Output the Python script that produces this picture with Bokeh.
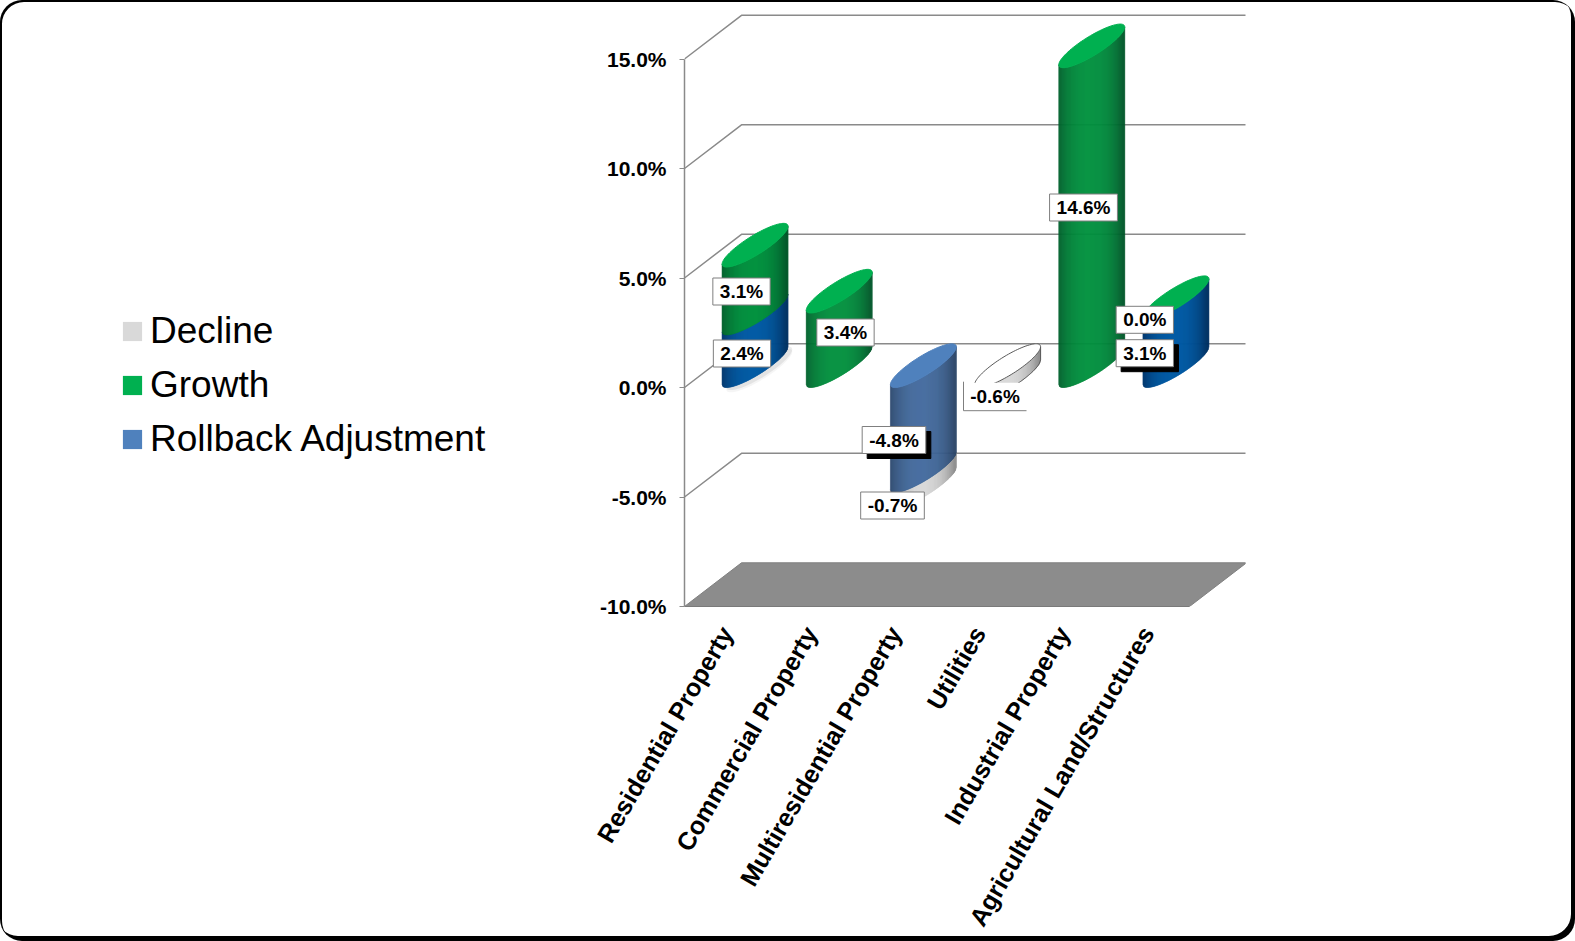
import math

from bokeh.embed import file_html
from bokeh.models import FixedTicker, Label, Legend, LegendItem, PrintfTickFormatter
from bokeh.plotting import figure
from bokeh.resources import INLINE

# Stacked values in percent
categories = ["Residential Property", "Commercial Property", "Multiresidential Property",
              "Utilities", "Industrial Property", "Agricultural Land/Structures"]
decline = [0.0, 0.0, -0.7, -0.6, 0.0, 0.0]
growth = [3.1, 3.4, 0.0, 0.0, 14.6, 0.0]
rollback = [2.4, 0.0, -4.8, 0.0, 0.0, 3.1]
value_ticks = [-10, -5, 0, 5, 10, 15]

# Value label centres, in page pixels, and whether the box has a hard shadow
label_values = [3.1, 2.4, 3.4, -4.8, -0.7, -0.6, 14.6, 0.0, 3.1]
label_px = [741, 741.5, 845, 893.5, 892, 994.5, 1083, 1144.3, 1144.3]
label_py = [291, 353, 332, 439.5, 505, 395.7, 207, 319.3, 352.7]
label_shadow = [False, False, False, True, False, False, False, False, True]

# Plot frame and projection
WIDTH, HEIGHT = 1575, 941
FRAME_L, FRAME_R, FRAME_T, FRAME_B = 684, 1245, 10, 606
PX_PER_CAT = 84.17
PX_PER_VALUE = 21.9
DEPTH_X = 57 / PX_PER_CAT      # receding offset of the back wall, category units
DEPTH_Y = 43.7 / PX_PER_VALUE  # receding offset of the back wall, value units
RADIUS_X = 16.6 / PX_PER_CAT   # half width of a cylinder's base along the category axis

GREEN_TOP = "#00b050"
GREEN_BODY = ((0, 144, 62), (0, 88, 42))
BLUE_BODY = ((0, 90, 164), (0, 50, 100))
STEEL_BODY = ((66, 106, 156), (42, 68, 104))
GREY_BODY = ((215, 215, 215), (140, 140, 140))
STEEL_TOP = "#4f81bd"
GRID = "#8a8a8a"

# The rounded card is the page element itself, shown through a transparent canvas
card = {"border-radius": "22px", "background": "white",
        "box-shadow": "inset 2px 2px 0 black, inset -4px -5px 0 black"}

p = figure(width=WIDTH, height=HEIGHT, output_backend="svg", toolbar_location=None,
           x_range=(0, (FRAME_R - FRAME_L) / PX_PER_CAT),
           y_range=(-10, -10 + (FRAME_B - FRAME_T) / PX_PER_VALUE),
           min_border_left=FRAME_L, min_border_right=WIDTH - FRAME_R,
           min_border_top=FRAME_T, min_border_bottom=HEIGHT - FRAME_B,
           outline_line_color=None, background_fill_color=None, border_fill_color=None,
           styles=card)
p.grid.visible = False

# Value axis on the front edge of the side wall
p.yaxis.ticker = FixedTicker(ticks=value_ticks)
p.yaxis.bounds = (-10, 15)
p.yaxis.formatter = PrintfTickFormatter(format="%.1f%%")
p.yaxis.axis_line_color = GRID
p.yaxis.axis_line_width = 1.5
p.yaxis.major_tick_line_color = GRID
p.yaxis.major_tick_in = 0
p.yaxis.major_tick_out = 5
p.yaxis.minor_tick_line_color = None
p.yaxis.major_label_text_font = "Liberation Sans"
p.yaxis.major_label_text_font_style = "bold"
p.yaxis.major_label_text_font_size = "21px"
p.yaxis.major_label_text_color = "black"
p.yaxis.major_label_standoff = 13

# Category axis along the front edge of the floor
p.xaxis.ticker = FixedTicker(ticks=[i + 0.5 for i in range(len(categories))])
p.xaxis.major_label_overrides = {i + 0.5: c for i, c in enumerate(categories)}
p.xaxis.major_label_orientation = math.radians(59.8)
p.xaxis.bounds = (0, len(categories))
p.xaxis.axis_line_color = "#7a7a7a"
p.xaxis.major_tick_line_color = None
p.xaxis.minor_tick_line_color = None
p.xaxis.major_label_text_font = "Liberation Sans"
p.xaxis.major_label_text_font_style = "bold"
p.xaxis.major_label_text_font_size = "25.2px"
p.xaxis.major_label_text_color = "black"
p.xaxis.major_label_standoff = 16

# Floor and walls
n = len(categories)
p.patch([0, DEPTH_X, n + DEPTH_X, n], [-10, -10 + DEPTH_Y, -10 + DEPTH_Y, -10],
        fill_color="#8c8c8c", line_color="#808080", line_width=1)
for tick in value_ticks[1:]:
    p.line([0, DEPTH_X, n + DEPTH_X], [tick, tick + DEPTH_Y, tick + DEPTH_Y], line_color=GRID, line_width=1.5)


def rgb(c):
    return "#%02x%02x%02x" % tuple(int(round(v)) for v in c)


def ring(cat, level, shift=0.0, steps=90):
    """Outline of a cylinder cross-section at a given stack level."""
    xs, ys = [], []
    for k in range(steps + 1):
        t = 2 * math.pi * k / steps
        xs.append(cat + 0.5 + shift + DEPTH_X / 2 + RADIUS_X * math.cos(t) + DEPTH_X / 2 * math.sin(t))
        ys.append(level + DEPTH_Y / 2 + DEPTH_Y / 2 * math.sin(t))
    return xs, ys


EXTENT = math.hypot(RADIUS_X, DEPTH_X / 2)
PHI = math.atan2(DEPTH_X / 2, RADIUS_X)


def front_arc(level, s):
    """Level of the near edge of a cross-section, at s in [0, 1] across its width."""
    u = max(-1.0, min(1.0, 2 * s - 1))
    d = math.acos(u)
    return level + DEPTH_Y / 2 + DEPTH_Y / 2 * min(math.sin(PHI + d), math.sin(PHI - d))


def body(cat, lo, hi, colors, strips=66):
    """Cylinder wall between two stack levels, shaded strip by strip across its width."""
    mid, edge = colors
    left = cat + 0.5 + DEPTH_X / 2 - EXTENT
    xs, ys, fills = [], [], []
    for k in range(strips):
        s0, s1 = k / strips, (k + 1) / strips
        sc = (s0 + s1) / 2
        shade = min(1.0, abs(2 * sc - 0.95) ** 2.5)
        xs.append([left + 2 * EXTENT * s0, left + 2 * EXTENT * s1, left + 2 * EXTENT * s1, left + 2 * EXTENT * s0])
        ys.append([front_arc(lo, s0), front_arc(lo, s1), front_arc(hi, s1), front_arc(hi, s0)])
        fills.append(rgb([m + (e - m) * shade for m, e in zip(mid, edge)]))
    p.patches(xs, ys, fill_color=fills, line_color=fills, line_width=0.6)


# Soft contact shadow behind the first column
for drop, alpha in [(0.22, 0.04), (0.12, 0.07)]:
    sx, sy = ring(0, -drop, shift=0.05)
    p.patch(sx, sy, fill_color="black", fill_alpha=alpha, line_color=None)

# Columns: positive segments stack upward from zero, negative ones downward
for i in range(n):
    if rollback[i] > 0 or growth[i] > 0:
        if rollback[i]:
            body(i, 0, rollback[i], BLUE_BODY)
        total = rollback[i] + growth[i]
        if growth[i]:
            body(i, rollback[i], total, GREEN_BODY)
        tx, ty = ring(i, total)
        p.patch(tx, ty, fill_color=GREEN_TOP, line_color=GREEN_TOP, line_width=1)
    elif rollback[i] < 0:
        body(i, rollback[i] + decline[i], rollback[i], GREY_BODY)
        body(i, rollback[i], 0, STEEL_BODY)
        tx, ty = ring(i, 0)
        p.patch(tx, ty, fill_color=STEEL_TOP, line_color=STEEL_TOP, line_width=1)
    else:
        body(i, decline[i], 0, GREY_BODY)
        tx, ty = ring(i, 0)
        p.patch(tx, ty, fill_color="white", line_color="#5a5a5a", line_width=1)
        arc = [k / 60 for k in range(61)]
        left = i + 0.5 + DEPTH_X / 2 - EXTENT
        p.line([left + 2 * EXTENT * s for s in arc] + [left + 2 * EXTENT],
               [front_arc(decline[i], s) for s in arc] + [front_arc(0, 1.0)],
               line_color="#5a5a5a", line_width=1)


def to_x(px):
    return (px - FRAME_L) / PX_PER_CAT


def to_y(py):
    return -10 + (FRAME_B - py) / PX_PER_VALUE


# Boxed value labels; the Utilities box is only ruled on its left and lower sides
for val, lx, ly, shadow in zip(label_values, label_px, label_py, label_shadow):
    text = f"{val:.1f}%"
    common = dict(x=to_x(lx), y=to_y(ly), text=text, text_align="center", text_baseline="middle",
                  text_font="Liberation Sans", text_font_style="bold", text_font_size="19px", padding=(7, 3))
    if shadow:
        p.add_layout(Label(x_offset=5, y_offset=-5, text_color="black", background_fill_color="black",
                           border_line_color="black", **common))
    partial = val == decline[3]
    p.add_layout(Label(text_color="black", background_fill_color="white",
                       border_line_color=None if partial else "#7f7f7f", border_line_width=1, **common))
    if partial:
        p.line([to_x(lx - 31.5), to_x(lx - 31.5), to_x(lx + 31.5)],
               [to_y(ly - 14.5), to_y(ly + 14.5), to_y(ly + 14.5)],
               line_color="#7f7f7f", line_width=1, level="overlay")

# Legend set in the left margin, beside the value axis; the negative margin keeps
# its side panel from pushing the plot frame to the right
swatches = [("Decline", "#d9d9d9"), ("Growth", GREEN_TOP), ("Rollback Adjustment", STEEL_TOP)]
items = []
for name, color in swatches:
    r = p.quad(left=[0], right=[0], top=[-10], bottom=[-10], fill_color=color, line_color=None)
    items.append(LegendItem(label=name, renderers=[r]))
legend = Legend(items=items, location=(120, 146), background_fill_alpha=0, border_line_color=None,
                glyph_width=24, glyph_height=24, label_text_font="Liberation Sans",
                label_text_font_size="37px", label_text_color="black", spacing=12, padding=0,
                margin=-140, label_standoff=6)
p.add_layout(legend, "left")

open("out.html", "w").write(file_html(p, INLINE))
